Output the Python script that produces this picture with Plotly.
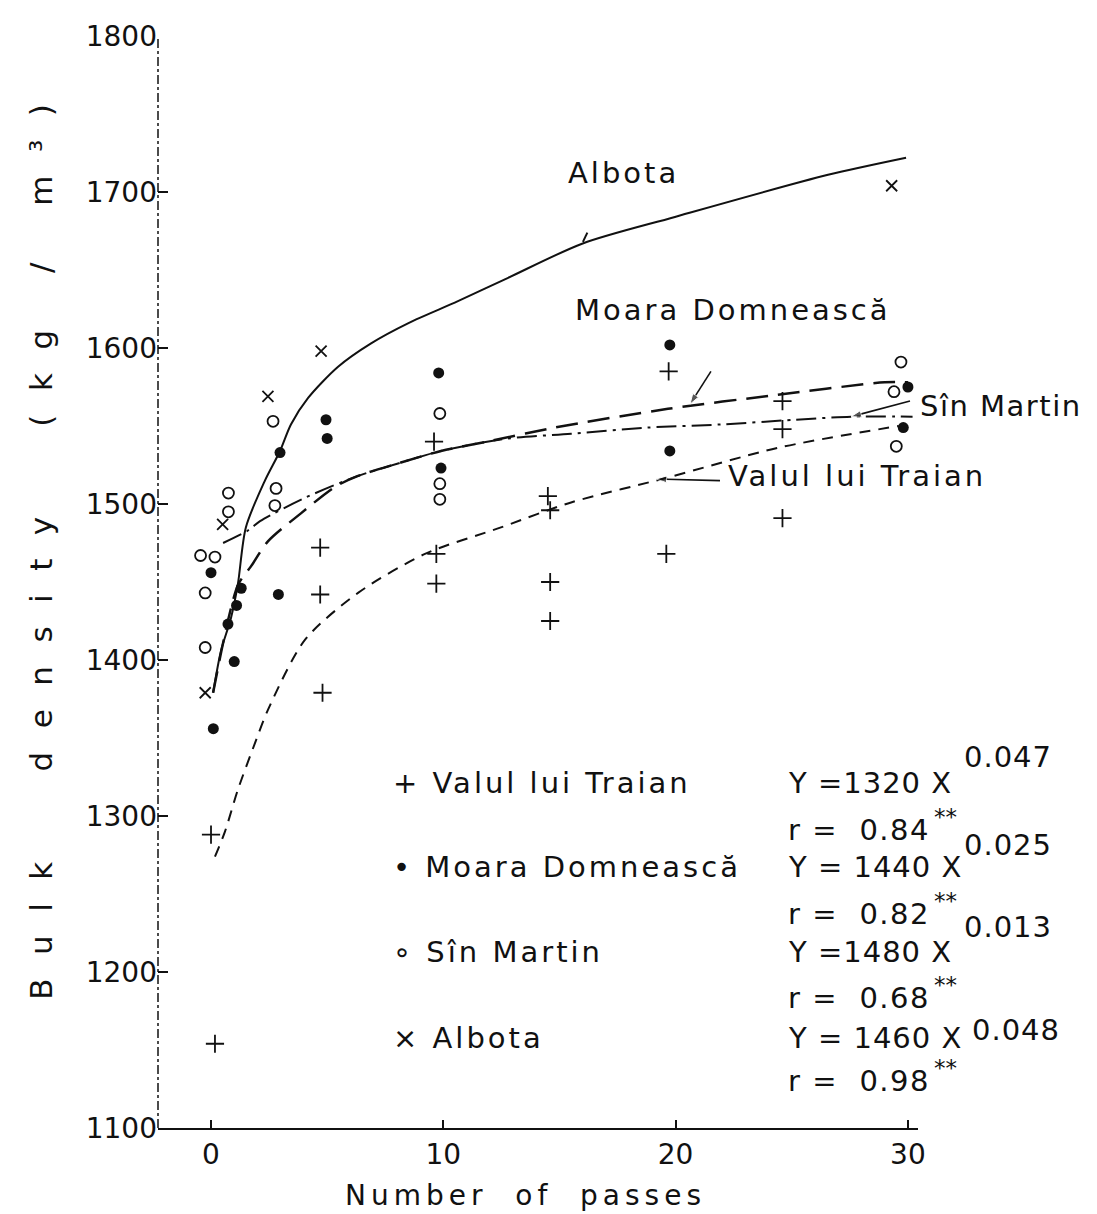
import plotly.graph_objects as go

# ---- data (x = number of passes, y = bulk density kg/m3) ----
valul_x = [0.0, 0.17, 4.7, 4.7, 4.8, 9.6, 9.7, 9.7, 14.5, 14.6, 14.6, 14.6, 19.7, 19.6, 24.6, 24.6, 24.6]
valul_y = [1288, 1154, 1472, 1442, 1379, 1540, 1468, 1449, 1505, 1496, 1450, 1425, 1585, 1468, 1566, 1548, 1491]

moara_x = [0.1, 0.0, 0.73, 1.0, 1.1, 1.3, 2.9, 2.97, 4.95, 5.0, 9.8, 9.9, 19.75, 19.75, 30.0, 29.8]
moara_y = [1356, 1456, 1423, 1399, 1435, 1446, 1442, 1533, 1554, 1542, 1584, 1523, 1602, 1534, 1575, 1549]

sin_x = [-0.45, 0.17, -0.25, -0.25, 0.75, 0.75, 2.67, 2.8, 2.75, 9.85, 9.85, 9.85, 29.7, 29.4, 29.5]
sin_y = [1467, 1466, 1443, 1408, 1507, 1495, 1553, 1510, 1499, 1558, 1513, 1503, 1591, 1572, 1537]

albota_x = [-0.25, 0.5, 2.45, 4.74, 29.3]
albota_y = [1379, 1487, 1569, 1598, 1704]

# fitted curves (traced)
albota_cx = [0.09, 0.43, 0.86, 1.16, 1.5, 2.32, 2.97, 3.44, 4.18, 5.47, 6.89, 8.5, 10.63, 12.79, 16.0, 19.97, 26.56, 29.92]
albota_cy = [1379, 1406, 1427, 1449, 1485, 1515, 1534, 1551, 1568, 1588, 1603, 1616, 1630, 1645, 1667, 1684, 1711, 1722]

moara_cx = [0.09, 1.16, 1.72, 2.45, 3.87, 5.34, 6.33, 8.05, 9.9, 11.9, 14.8, 19.67, 24.4, 29.0, 30.0]
moara_cy = [1379, 1448, 1460, 1476, 1494, 1511, 1518, 1526, 1534, 1540, 1549, 1561, 1570, 1578, 1578]

sin_cx = [0.52, 1.59, 2.11, 4.05, 6.33, 8.05, 9.9, 12.79, 15.5, 18.81, 21.95, 25.14, 27.55, 30.2]
sin_cy = [1475, 1483, 1489, 1504, 1518, 1526, 1534, 1542, 1545, 1549, 1551, 1554, 1556, 1556]

valul_cx = [0.17, 0.6, 1.16, 1.9, 2.45, 4.05, 6.33, 9.21, 12.48, 15.5, 19.67, 24.4, 29.6]
valul_cy = [1274, 1290, 1317, 1347, 1368, 1413, 1443, 1468, 1485, 1501, 1517, 1536, 1550]

# label pointer lines (tail -> head)
pointer_x = [[21.52, 20.62], [30.09, 27.55], [21.91, 19.16]]
pointer_y = [[1585, 1564], [1566, 1556], [1515, 1516]]
albota_tick_x = [16.01, 16.2]
albota_tick_y = [1668, 1674]

y_ticks = [1100, 1200, 1300, 1400, 1500, 1600, 1700, 1800]
x_ticks = [0, 10, 20, 30]

# regression annotations
eq_lines = ["Y =1320 X", "Y = 1440 X", "Y =1480 X", "Y = 1460 X"]
eq_exps = ["0.047", "0.025", "0.013", "0.048"]
r_vals = ["0.84", "0.82", "0.68", "0.98"]
legend_labels = ["+ Valul lui Traian", "• Moara Domnească", "∘ Sîn Martin", "× Albota"]

FONT = "DejaVu Sans"
INK = "#111111"


def sp(t, ls=3):
    return f'<span style="letter-spacing:{ls}px">{t}</span>'


fig = go.Figure()

# curves
fig.add_trace(go.Scatter(x=albota_cx, y=albota_cy, mode="lines", line=dict(color=INK, width=2, shape="spline", smoothing=0.8),
                         showlegend=False, hoverinfo="skip"))
fig.add_trace(go.Scatter(x=moara_cx, y=moara_cy, mode="lines",
                         line=dict(color=INK, width=2.5, dash="22px,10px", shape="spline", smoothing=0.8),
                         showlegend=False, hoverinfo="skip"))
fig.add_trace(go.Scatter(x=sin_cx, y=sin_cy, mode="lines",
                         line=dict(color=INK, width=2, dash="20px,6px,3px,6px", shape="spline", smoothing=0.8),
                         showlegend=False, hoverinfo="skip"))
fig.add_trace(go.Scatter(x=valul_cx, y=valul_cy, mode="lines",
                         line=dict(color=INK, width=2, dash="11px,8px", shape="spline", smoothing=0.8),
                         showlegend=False, hoverinfo="skip"))

# pointers
for px_, py_ in zip(pointer_x, pointer_y):
    fig.add_trace(go.Scatter(x=px_, y=py_, mode="lines+markers", line=dict(color=INK, width=1.6),
                             marker=dict(symbol=["circle", "arrow"], size=[0, 11], color=INK, angleref="previous"),
                             showlegend=False, hoverinfo="skip"))
fig.add_trace(go.Scatter(x=albota_tick_x, y=albota_tick_y, mode="lines", line=dict(color=INK, width=2),
                         showlegend=False, hoverinfo="skip"))

# points
fig.add_trace(go.Scatter(x=valul_x, y=valul_y, mode="markers", name="Valul lui Traian",
                         marker=dict(symbol="cross-thin", size=13, color=INK, line=dict(color=INK, width=1.8)), showlegend=False))
fig.add_trace(go.Scatter(x=moara_x, y=moara_y, mode="markers", name="Moara Domnească",
                         marker=dict(symbol="circle", size=11, color=INK), showlegend=False))
fig.add_trace(go.Scatter(x=sin_x, y=sin_y, mode="markers", name="Sîn Martin",
                         marker=dict(symbol="circle-open", size=11, color=INK, line=dict(color=INK, width=1.8)), showlegend=False))
fig.add_trace(go.Scatter(x=albota_x, y=albota_y, mode="markers", name="Albota",
                         marker=dict(symbol="x-thin", size=11, color=INK, line=dict(color=INK, width=1.8)), showlegend=False))

ann = []


def txt(x, y, t, size=29, xa="left", ya="middle", **kw):
    ann.append(dict(x=x, y=y, xref="paper", yref="paper", text=t, showarrow=False,
                    xanchor=xa, yanchor=ya, font=dict(family=FONT, size=size, color=INK), **kw))


# curve labels
txt(0.612, 0.875, sp("Albota"), xa="center")
txt(0.757, 0.749, sp("Moara Domnească"), xa="center")
txt(1.0, 0.661, sp("Sîn Martin", 1.5))
txt(0.747, 0.597, sp("Valul lui Traian"))

# legend block + equations
row_y = [0.316, 0.239, 0.161, 0.082]
r_y = [0.273, 0.196, 0.119, 0.043]
exp_dy = [0.024, 0.020, 0.023, 0.008]
LX = 0.307
EQ = 0.826
EX = 1.058
for i in range(4):
    txt(LX, row_y[i], sp(legend_labels[i]))
    txt(EQ, row_y[i], sp(eq_lines[i], 1))
    txt(EX + (0.01 if i == 3 else 0), row_y[i] + exp_dy[i], sp(eq_exps[i], 1))
    txt(EQ, r_y[i], sp("r =  " + r_vals[i], 1.5))
    txt(1.018, r_y[i] + 0.012, "**", size=23)

# axis titles
txt(-0.155, 0.538, sp("Bulk  density  (kg / m³)", 23.5), size=31, xa="center", textangle=-90)
txt(0.483, -0.062, sp("Number  of  passes", 5), size=28, xa="center")

fig.update_layout(
    width=1097, height=1214,
    margin=dict(l=150, r=187, t=23, b=94),
    paper_bgcolor="white", plot_bgcolor="white",
    annotations=ann,
    font=dict(family=FONT, size=28, color=INK),
    xaxis=dict(range=[-2.282, 30.434], tickvals=x_ticks, ticks="inside", ticklen=8, tickwidth=1.5,
               tickcolor=INK, showline=True, linecolor=INK, linewidth=2, showgrid=False, zeroline=False,
               tickfont=dict(family=FONT, size=28, color=INK)),
    yaxis=dict(range=[1100, 1800], tickvals=y_ticks, ticks="inside", ticklen=10, tickwidth=1.5,
               tickcolor=INK, showline=False, showgrid=False, zeroline=False,
               tickfont=dict(family=FONT, size=28, color=INK)),
    shapes=[dict(type="line", xref="paper", yref="paper", x0=0, x1=0, y0=0, y1=1,
                 line=dict(color=INK, width=1.5, dash="dashdot"))],
)

fig.write_html("out.html")
